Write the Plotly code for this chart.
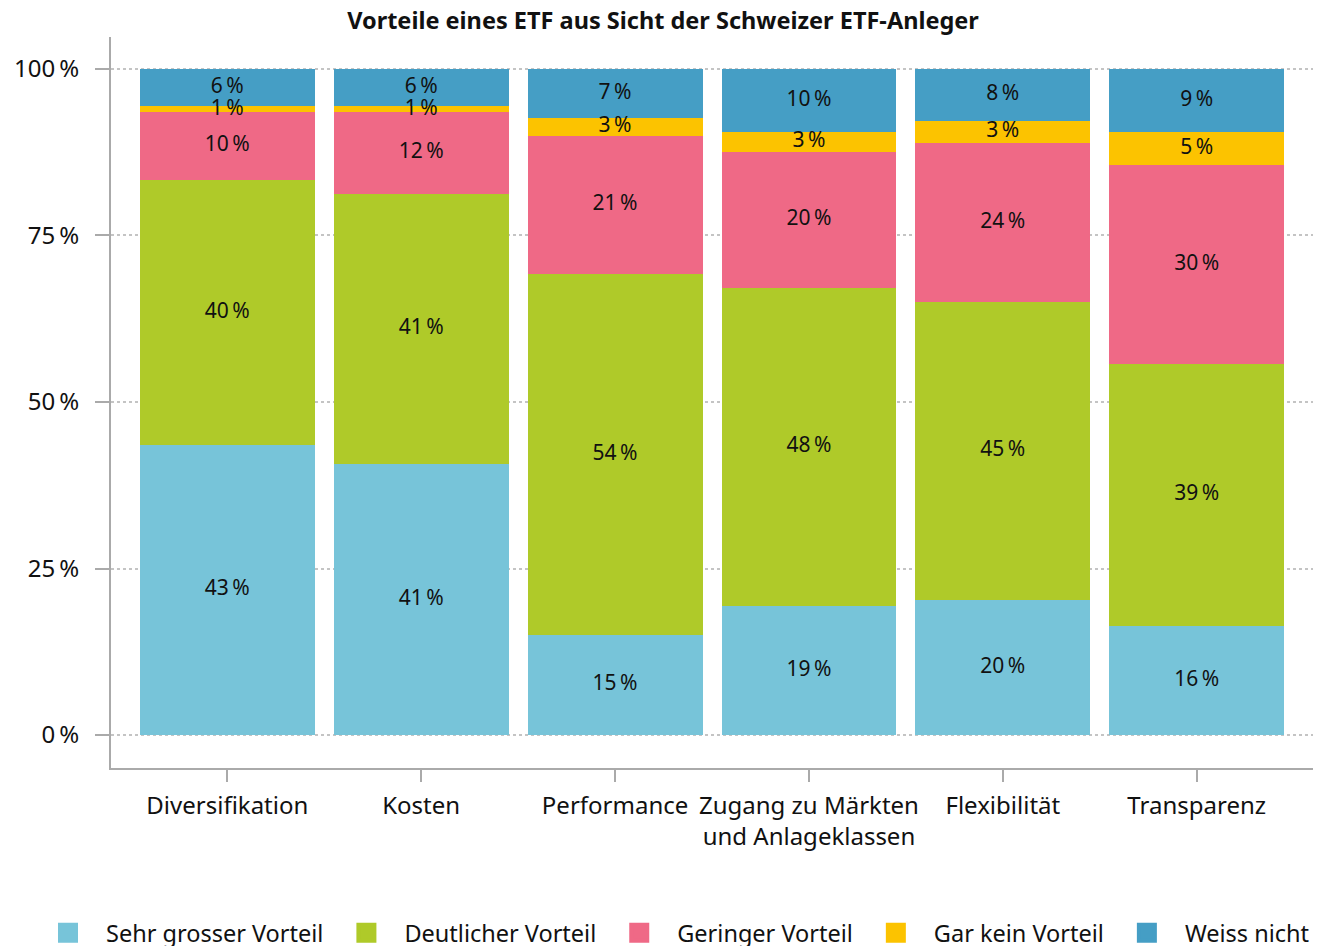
import plotly.graph_objects as go

categories = ["Diversifikation", "Kosten", "Performance",
              "Zugang zu Märkten<br>und Anlageklassen", "Flexibilität", "Transparenz"]

series_names = ["Sehr grosser Vorteil", "Deutlicher Vorteil", "Geringer Vorteil",
                "Gar kein Vorteil", "Weiss nicht"]

# bar heights (share of answers, %)
sehr_gross = [43.5, 40.7, 15.0, 19.4, 20.3, 16.4]
deutlich = [39.8, 40.6, 54.2, 47.7, 44.7, 39.3]
gering = [10.2, 12.2, 20.8, 20.4, 23.9, 29.9]
gar_kein = [0.9, 0.9, 2.6, 3.0, 3.3, 4.95]
weiss_nicht = [5.6, 5.6, 7.4, 9.5, 7.8, 9.5]

# printed labels
lab_sehr_gross = [43, 41, 15, 19, 20, 16]
lab_deutlich = [40, 41, 54, 48, 45, 39]
lab_gering = [10, 12, 21, 20, 24, 30]
lab_gar_kein = [1, 1, 3, 3, 3, 5]
lab_weiss_nicht = [6, 6, 7, 10, 8, 9]

y_tickvals = [0, 25, 50, 75, 100]
y_ticktext = ["0\u202f%", "25\u202f%", "50\u202f%", "75\u202f%", "100\u202f%"]

colors = ["#77C4D9", "#AFCA29", "#EF6986", "#FCC300", "#459EC5"]

values = [sehr_gross, deutlich, gering, gar_kein, weiss_nicht]
labels = [lab_sehr_gross, lab_deutlich, lab_gering, lab_gar_kein, lab_weiss_nicht]

FONT = "Noto Sans"
W, H = 1325, 946
ML, MR, MT, MB = 103, 20, 29, 186
PW, PH = W - ML - MR, H - MT - MB

fig = go.Figure()
for name, vals, col in zip(series_names, values, colors):
    fig.add_trace(go.Bar(
        x=categories, y=vals, name=name,
        marker=dict(color=col, line=dict(width=0)),
        showlegend=False, hoverinfo="skip",
    ))

# labels drawn on top of all bars, at the middle of each segment
base = [0.0] * len(categories)
for vals, labs in zip(values, labels):
    mids = [b + v / 2 for b, v in zip(base, vals)]
    fig.add_trace(go.Scatter(
        x=categories, y=mids, mode="text",
        text=[f"{v}\u202f%" for v in labs], textposition="middle center",
        textfont=dict(family=FONT, size=21, color="#111111"),
        showlegend=False, hoverinfo="skip", cliponaxis=False,
    ))
    base = [b + v for b, v in zip(base, vals)]

# legend entries with larger square swatches
for name, col in zip(series_names, colors):
    fig.add_trace(go.Scatter(
        x=[None], y=[None], mode="markers", name=name,
        marker=dict(symbol="square", size=16, color=col, line=dict(color=col, width=4)),
        showlegend=True,
    ))

fig.update_layout(
    barmode="stack",
    bargap=0.098,
    width=W, height=H,
    margin=dict(l=ML, r=MR, t=MT, b=MB, autoexpand=False),
    paper_bgcolor="white", plot_bgcolor="white",
    font=dict(family=FONT, size=23, color="#111111"),
    title=dict(text="<b>Vorteile eines ETF aus Sicht der Schweizer ETF-Anleger</b>",
               x=655 / W, xref="container", xanchor="center", y=1 - 13 / H, yref="container",
               yanchor="middle", font=dict(family=FONT, size=23.5, color="#111111")),
    legend=dict(orientation="h", x=(22 - ML) / PW, xref="paper", xanchor="left",
                y=(MT + PH - 925) / PH, yref="paper", yanchor="middle",
                font=dict(family=FONT, size=23.5, color="#111111"),
                itemwidth=66, traceorder="normal"),
    xaxis=dict(
        range=[-0.6, 5.6], showline=True, linecolor="#aaaaaa", linewidth=2,
        ticks="outside", ticklen=12, tickwidth=2, tickcolor="#aaaaaa",
        showgrid=False, zeroline=False, fixedrange=True, automargin=False,
        ticklabelstandoff=3,
        tickfont=dict(family=FONT, size=24, color="#111111"),
    ),
    yaxis=dict(
        range=[-4.95, 104.8], tickvals=y_tickvals, ticktext=y_ticktext,
        showline=True, linecolor="#aaaaaa", linewidth=2,
        ticks="outside", ticklen=14, tickwidth=2, tickcolor="#aaaaaa",
        showgrid=True, gridcolor="#c4c4c4", gridwidth=1.5, griddash="dot",
        zeroline=False, ticklabelstandoff=11, automargin=False,
        tickfont=dict(family=FONT, size=24, color="#111111"),
    ),
)

fig.write_html("out.html")
